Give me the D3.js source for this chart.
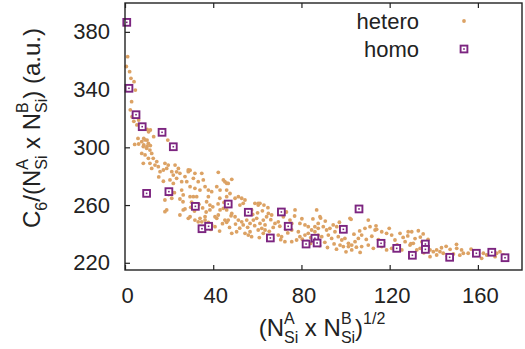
<!DOCTYPE html>
<html>
<head>
<meta charset="utf-8">
<script src="https://cdn.jsdelivr.net/npm/d3@7"></script>
<style>
  body { margin: 0; background: #fff; }
  svg { display: block; font-family: "Liberation Sans", Arial, sans-serif; }
</style>
</head>
<body>
<svg width="525" height="349"></svg>
<script>
// ticks
const xTicks = [0, 40, 80, 120, 160];
const yTicks = [220, 260, 300, 340, 380];

// homo: squares
const homoX = [0.8, 1.8, 5.0, 7.8, 16.8, 21.9, 9.8, 19.9, 31.9, 46.8, 55.9, 70.9, 74.0, 34.9, 37.9,
  65.9, 82.1, 86.1, 87.1, 99.0, 106.1, 116.1, 123.2, 130.3, 136.2, 136.2, 147.2, 159.3, 166.3, 172.3];
const homoY = [386.6, 340.9, 322.6, 314.3, 310.4, 300.4, 268.1, 269.3, 259.1, 260.7, 255.0, 255.2, 245.3, 243.6, 245.3,
  237.2, 233.0, 237.0, 233.7, 243.2, 257.3, 233.5, 230.0, 225.2, 233.0, 229.3, 223.8, 226.6, 227.3, 223.5];

// hetero: small dots
const hetero = [
  [1.2,362.8],[0.6,356],[2.1,352.4],[2.7,347.8],[4.1,345.5],[4.7,339.7],[3.0,331.6],[2.4,326],[3.2,321.2],[4.0,318],
  [6.2,318.9],[5.4,315.5],[6.9,313.9],[10.0,312.5],[11.5,312.0],[10.7,310.8],[13.0,307.4],[5.9,306.2],[8.5,306.2],[10.0,305.0],
  [19.4,305.0],[4.4,302.0],[6.2,302.3],[8.5,301.6],[10.0,300.8],[11.5,301.2],
  [7.6,303.9],[9.1,305.1],[10.6,302.8],[8.3,300.5],[9.8,299.3],[11.3,298.1],[12.1,295.8],[7.6,295.8],[9.1,294.7],[10.6,292.4],
  [12.8,292.4],[14.4,290.1],[11.3,288.9],[13.6,287.7],[8.3,288.9],[15.1,286.6],[12.1,285.4],[15.9,283.1],[17.4,284.3],[18.1,288.9],
  [19.6,287.7],[18.9,285.4],[21.2,283.1],[22.7,287.7],[24.2,285.4],[21.9,280.8],[23.4,278.5],[24.9,282.0],[27.2,279.7],[25.7,276.2],
  [28.0,276.2],[29.5,272.7],[28.7,283.1],[31.7,282.0],[34.8,282.0],[31.0,278.5],[33.2,276.2],[35.5,277.4],[36.3,272.7],[31.7,271.6],
  [34.0,270.4],[37.8,270.4],[39.3,269.3],[41.6,272.7],[43.1,270.4],[44.6,277.4],[46.1,275.1],[42.3,282.7],[46.1,265.8],[29.5,265.8],
  [26.4,267.0],[25.7,270.4],[21.9,275.0],[20.4,277.4],[23.4,283.0],[28.7,284.3],[29.5,284.1],[48.4,277.8],[15.3,279.5],[17.4,276.5],
  [18.1,263.5],[21.2,264.7],[24.9,264.2],[26.3,262.3],[18.9,256.6],[18.1,255.4],[26.4,256.6],[27.2,257.3],[24.9,253.1],[28.7,250.8],
  [29.5,251.9],[31.0,265.8],[32.5,265.8],[37.8,265.8],[37.0,262.3],[38.5,260.0],[38.5,256.6],[43.0,264.7],[34.0,250.8],[36.3,251.9],
  [34.8,248.4],[36.3,249.6],[40.8,251.9],[42.3,253.1],[41.6,250.8],[43.1,256.6],[44.6,257.7],[46.1,256.6],[45.3,249.6],[46.1,248.0],
  [39.3,246.2],[40.8,245.0],[31.7,249.6],[33.2,248.4],
  [30.2,262.0],[33.5,260.5],[35.2,258.0],[36.8,255.2],[31.5,255.8],[29.8,258.4],[39.8,258.8],[42.2,260.8],[44.9,261.8],[47.2,259.9],
  [48.1,252.6],[44.2,247.1],[37.8,247.9],[38.9,243.1],[42.9,242.0],[47.4,244.5],[22.4,268.6],[20.1,270.1],[19.8,267.3],
  [46.1,270.4],[47.6,268.0],[45.3,276.2],[46.8,275.0],[49.9,264.7],[51.4,265.8],[52.9,264.7],[54.4,263.5],[53.6,261.2],[52.1,260.0],
  [58.9,261.2],[60.4,260.0],[61.2,261.2],[57.4,256.6],[48.4,254.2],[49.9,251.9],[46.8,249.6],[51.4,249.6],[52.9,248.4],[53.6,246.2],
  [55.2,249.6],[56.7,247.3],[58.2,249.6],[59.7,250.8],[61.2,247.3],[62.7,249.6],[63.5,246.2],[64.2,251.9],[48.4,240.4],[50.6,241.5],
  [54.4,240.4],[55.9,239.2],[56.7,241.5],[57.4,238.1],[60.4,242.7],[62.0,243.9],[63.5,242.7],[62.7,240.4],[65.0,254.2],[66.5,253.1],
  [68.0,247.3],[69.5,248.4],[75.6,242.7],[78.6,241.5],[79.3,238.1],[81.6,239.2],[83.1,240.4],[84.6,242.7],[69.5,239.2],[71.0,238.1],
  [72.5,234.6],[75.6,234.6],[77.8,235.8],[77.1,256.6],[71.8,251.9],[74.8,249.6],[75.6,247.3],[79.3,247.3],[81.6,246.2],[83.1,245.0],
  [86.1,245.0],[87.6,247.3],[86.1,241.5],[87.6,239.2],[60.4,261.2],[63.0,260.0],
  [57.9,253.5],[60.1,254.6],[62.3,256.0],[64.8,258.2],[66.1,249.9],[67.2,244.5],[65.4,241.8],[70.2,245.3],[72.9,243.2],[73.8,240.7],
  [70.6,236.0],[66.9,236.8],[52.0,244.0],[50.1,246.8],[55.6,244.6],[58.8,245.7],[60.9,237.5],[80.4,236.3],[84.2,237.5],[82.6,234.8],
  [76.9,252.4],[80.2,250.5],[73.2,255.2],
  [86.9,256.6],[88.4,251.9],[102.0,250.8],[87.6,243.9],[89.9,245.0],[91.4,242.7],[92.9,243.9],[94.4,246.2],[96.0,245.0],[95.2,241.5],
  [89.2,238.1],[92.2,239.2],[93.7,236.9],[96.7,238.1],[98.3,235.8],[99.7,236.9],[101.3,233.5],[102.8,232.3],[104.3,234.6],[105.8,236.9],
  [107.3,239.2],[108.8,243.9],[111.1,245.0],[113.4,242.7],[116.4,241.5],[118.6,240.4],[120.9,239.2],[124.7,240.4],[128.4,241.5],[104.9,230.8],
  [107.3,231.2],[110.3,232.3],[112.6,230.0],[116.4,231.2],[118.6,228.9],[120.9,230.0],[125.5,228.9],[97.5,232.3],[99.0,231.2],[101.3,231.2],
  [102.8,228.9],[122.4,235.8],[127.0,234.6],[110.3,249.6],[113.8,245.6],[119.8,243.9],[114.1,243.2],[88.7,251.0],[102.5,250.1],
  [90.6,234.2],[94.8,233.1],[91.8,230.6],[88.2,231.9],[95.9,229.4],[100.2,227.6],[106.6,227.2],[109.4,236.2],[111.9,238.4],[114.9,236.1],
  [117.2,234.3],[123.4,232.4],[126.1,237.6],[129.6,233.2],[97.2,248.1],[99.6,242.3],[103.8,239.8],[106.4,242.1],[90.8,248.9],[85.2,250.4],
  [84.1,233.4],[86.6,235.6],
  [130.0,241.5],[133.0,242.2],[135.2,240.0],[129.2,232.3],[130.7,233.5],[132.3,228.9],[133.8,230.0],[138.3,228.9],[139.8,227.7],[141.3,228.9],
  [142.8,227.7],[144.3,226.6],[147.4,229.3],[150.4,230.0],[152.6,228.9],[153.4,226.6],[138.3,224.2],[141.3,225.4],[155.6,226.6],[158.7,227.7],
  [162.5,226.6],[164.0,225.4],[168.5,226.6],[170.0,227.7],[171.5,225.4],[161.7,223.1],[167.8,224.2],
  [131.5,236.8],[134.6,234.5],[136.9,231.8],[131.2,226.4],[135.5,226.9],[145.6,231.4],[148.9,226.1],[146.2,224.6],[151.8,225.3],[156.9,229.5],
  [150.3,232.8],[143.5,230.4],[137.4,236.2],[128.2,238.6],[133.9,237.8]
];

const svg = d3.select('svg');
const mLeft = 125, mRight = 522, mTop = 3, mBottom = 270;
const ink = '#222';
const tan = '#dca264';
const purple = '#7c2580';

const x = d3.scaleLinear().domain([0, 180]).range([mLeft, mRight]);
const y = d3.scaleLinear().domain([215, 400]).range([mBottom, mTop]);

// axes, ticks pointing inwards
const xAxis = svg.append('g')
  .attr('transform', `translate(0,${mBottom})`)
  .call(d3.axisBottom(x).tickValues(xTicks).tickSize(-5).tickPadding(17));
const xTop = svg.append('g')
  .attr('transform', `translate(0,${mTop})`)
  .call(d3.axisTop(x).tickValues(xTicks).tickSize(-5).tickFormat(''));
const yAxis = svg.append('g')
  .attr('transform', `translate(${mLeft},0)`)
  .call(d3.axisLeft(y).tickValues(yTicks).tickSize(-5).tickPadding(15));

[xAxis, xTop, yAxis].forEach(g => {
  g.select('.domain').remove();
  g.selectAll('line').attr('stroke', ink).attr('stroke-width', 1.2);
  g.selectAll('text').attr('fill', ink).style('font-size', '22px')
    .style('font-family', '"Liberation Sans", Arial, sans-serif');
});
xAxis.selectAll('text').attr('dx', 2);

// points
svg.append('g').selectAll('circle')
  .data(hetero)
  .enter()
  .append('circle')
  .attr('cx', d => x(d[0]))
  .attr('cy', d => y(d[1]))
  .attr('r', 1.9)
  .attr('fill', tan);

const homo = homoX.map((v, i) => [v, homoY[i]]);
const sq = svg.append('g').selectAll('g')
  .data(homo)
  .enter()
  .append('g')
  .attr('transform', d => `translate(${x(d[0])},${y(d[1])})`);
sq.append('rect')
  .attr('x', -3.4).attr('y', -3.4).attr('width', 6.8).attr('height', 6.8)
  .attr('fill', '#fff').attr('stroke', purple).attr('stroke-width', 1.9);
sq.append('rect')
  .attr('x', -0.8).attr('y', -0.8).attr('width', 1.6).attr('height', 1.6)
  .attr('fill', purple);

// frame
svg.append('rect')
  .attr('x', mLeft).attr('y', mTop)
  .attr('width', mRight - mLeft).attr('height', mBottom - mTop)
  .attr('fill', 'none').attr('stroke', ink).attr('stroke-width', 1.4);

// legend
svg.append('text').attr('x', 419).attr('y', 29).attr('text-anchor', 'end')
  .attr('fill', ink).style('font-size', '22px').text('hetero');
svg.append('circle').attr('cx', 464).attr('cy', 21).attr('r', 1.9).attr('fill', tan);
svg.append('text').attr('x', 419).attr('y', 57).attr('text-anchor', 'end')
  .attr('fill', ink).style('font-size', '22px').text('homo');
svg.append('rect').attr('x', 460.6).attr('y', 45.6).attr('width', 6.8).attr('height', 6.8)
  .attr('fill', '#fff').attr('stroke', purple).attr('stroke-width', 1.9);
svg.append('rect').attr('x', 463.2).attr('y', 48.2).attr('width', 1.6).attr('height', 1.6)
  .attr('fill', purple);

// titles with sub/superscripts, laid out piece by piece
function richText(g, parts) {
  let cx = 0;
  parts.forEach(p => {
    const pieces = p.stack || [p];
    let w = 0;
    pieces.forEach(q => {
      const t = g.append('text')
        .attr('x', cx).attr('y', q.dy || 0)
        .attr('fill', ink)
        .style('font-size', q.size + 'px')
        .style('white-space', 'pre')
        .text(q.t);
      w = Math.max(w, t.node().getComputedTextLength());
    });
    cx += w;
  });
  g.selectAll('text').attr('x', function() { return +d3.select(this).attr('x') - cx / 2; });
}

const big = 24, small = 16, up = -12, down = 7;
const stackA = { stack: [{ t: 'A', size: small, dy: up }, { t: 'Si', size: small, dy: down }] };
const stackB = { stack: [{ t: 'B', size: small, dy: up }, { t: 'Si', size: small, dy: down }] };

const xt = svg.append('g').attr('transform', 'translate(322,336)');
richText(xt, [
  { t: '(N', size: big }, stackA, { t: ' x N', size: big }, stackB,
  { t: ')', size: big }, { t: '1/2', size: small, dy: up }
]);

const yt = svg.append('g').attr('transform', 'translate(40,128) rotate(-90)');
richText(yt, [
  { t: 'C', size: big }, { t: '6', size: small, dy: down }, { t: '/(N', size: big }, stackA,
  { t: ' x N', size: big }, stackB, { t: ') (a.u.)', size: big }
]);
</script>
</body>
</html>
